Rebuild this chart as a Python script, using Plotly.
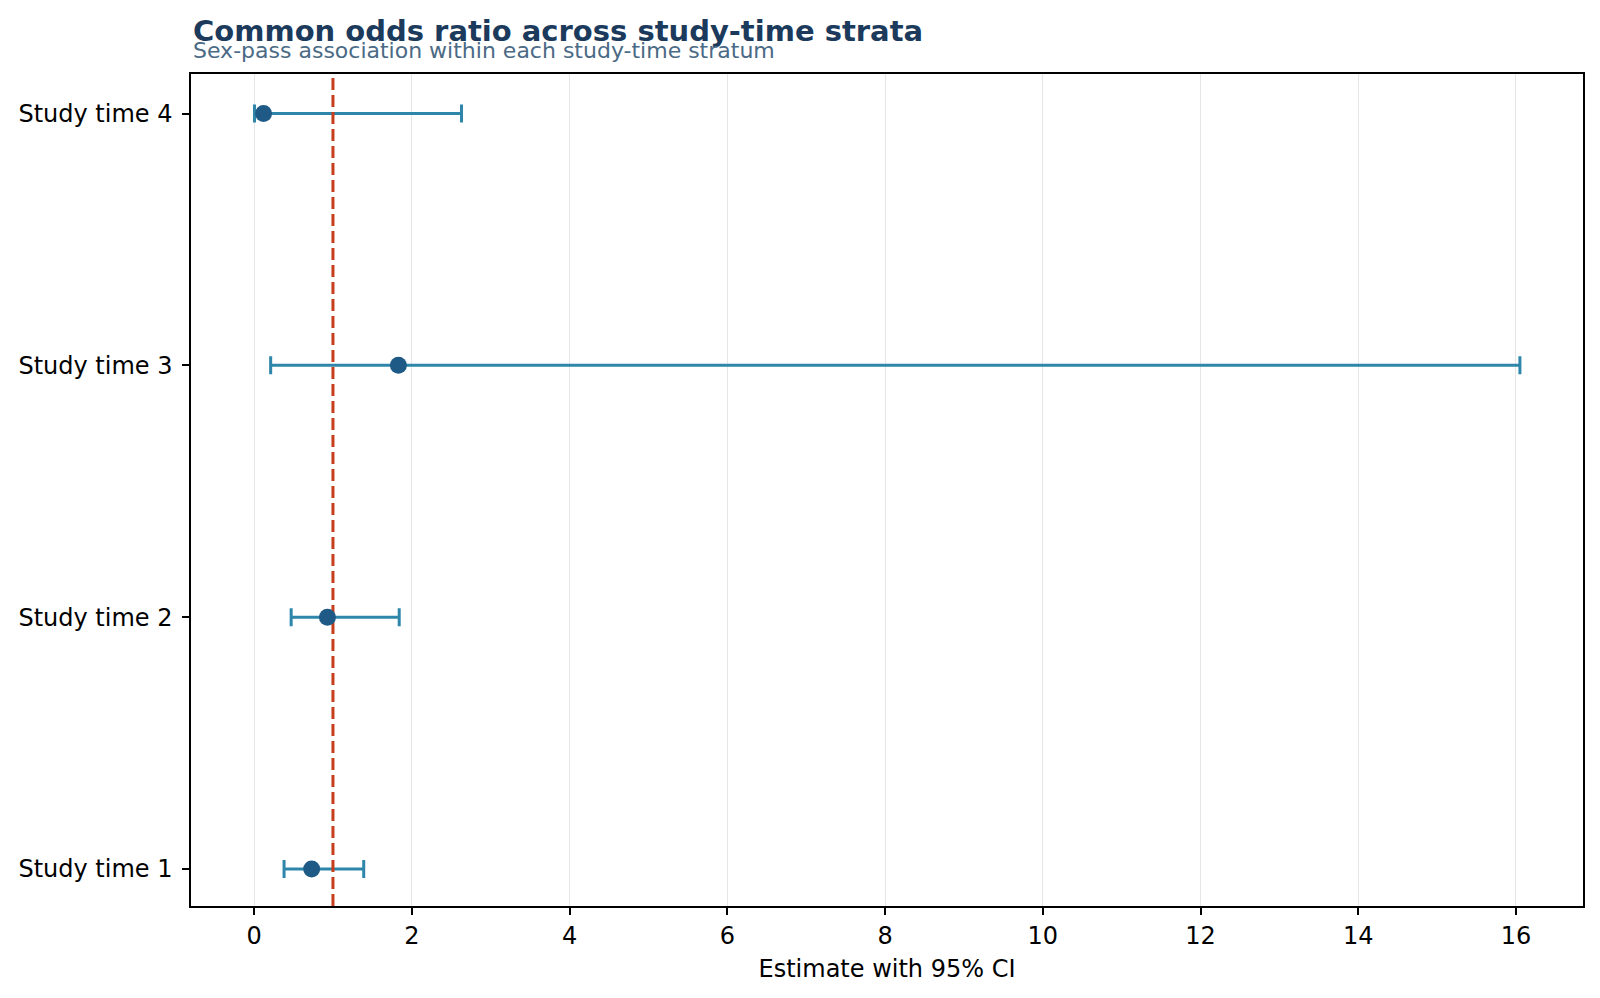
import plotly.graph_objects as go

# Data
strata = ["Study time 1", "Study time 2", "Study time 3", "Study time 4"]
estimates = [0.73, 0.93, 1.83, 0.12]
ci_low = [0.38, 0.47, 0.21, 0.005]
ci_high = [1.39, 1.84, 16.05, 2.63]
x_ticks = [0, 2, 4, 6, 8, 10, 12, 14, 16]
ref_value = 1.0

FONT = "DejaVu Sans"
BAR_COLOR = "#2E86AB"
PT_COLOR = "#1F5A87"
REF_COLOR = "#C73E1D"
TITLE_COLOR = "#1B3A5C"

ypos = list(range(len(strata)))
err_plus = [h - e for h, e in zip(ci_high, estimates)]
err_minus = [e - l for e, l in zip(estimates, ci_low)]

Y_RANGE = [-0.147, 3.157]

fig = go.Figure()
fig.add_trace(go.Scatter(
    x=estimates, y=ypos, mode="markers",
    marker=dict(size=1, color="rgba(0,0,0,0)"),
    error_x=dict(type="data", array=err_plus, arrayminus=err_minus,
                 color=BAR_COLOR, thickness=3, width=9),
    showlegend=False, hoverinfo="skip",
))
fig.add_trace(go.Scatter(
    x=[ref_value, ref_value], y=Y_RANGE, mode="lines",
    line=dict(color=REF_COLOR, width=3, dash="12px,5px"),
    showlegend=False, hoverinfo="skip",
))
fig.add_trace(go.Scatter(
    x=estimates, y=ypos, mode="markers",
    marker=dict(size=17, color=PT_COLOR),
    showlegend=False,
))

fig.update_layout(
    width=1600, height=998,
    margin=dict(l=191, r=17, t=74, b=92),
    paper_bgcolor="white", plot_bgcolor="white",
    font=dict(family=FONT, color="black"),
    annotations=[
        dict(text="<b>Common odds ratio across study-time strata</b>",
             xref="paper", yref="paper", x=0, y=1.052, xanchor="left", yanchor="middle",
             showarrow=False, font=dict(size=29, color=TITLE_COLOR, family=FONT)),
        dict(text="Sex-pass association within each study-time stratum",
             xref="paper", yref="paper", x=0, y=1.028, xanchor="left", yanchor="middle",
             showarrow=False, font=dict(size=22, color="#4A6A85", family=FONT)),
    ],
)
fig.update_xaxes(
    range=[-0.8, 16.85], tickvals=x_ticks, ticktext=[str(t) for t in x_ticks],
    showgrid=True, gridcolor="#E6E6E6", gridwidth=1.2,
    showline=True, linecolor="black", linewidth=1.5, mirror=True,
    ticks="outside", ticklen=7, tickwidth=1.5, tickcolor="black",
    tickfont=dict(size=24, family=FONT, color="black"),
    title=dict(text="Estimate with 95% CI", font=dict(size=24, family=FONT, color="black"), standoff=12),
    zeroline=False,
)
fig.update_yaxes(
    range=Y_RANGE, tickvals=ypos, ticktext=strata,
    showgrid=False,
    showline=True, linecolor="black", linewidth=1.5, mirror=True,
    ticks="outside", ticklen=7, tickwidth=1.5, tickcolor="black",
    tickfont=dict(size=24, family=FONT, color="black"),
    ticklabelstandoff=5,
    zeroline=False,
)

fig.write_html("out.html")
